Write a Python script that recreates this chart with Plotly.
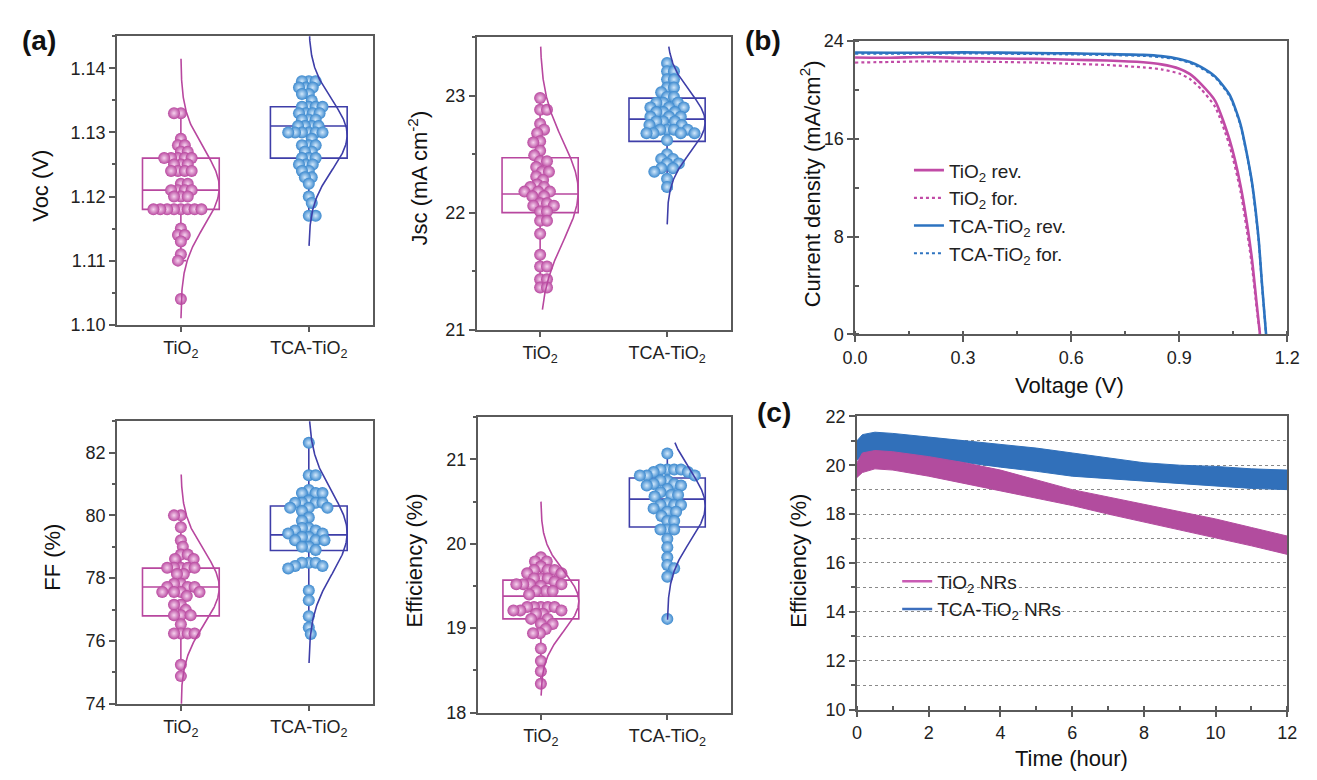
import numpy as np
import plotly.graph_objects as go

# ---------------- data ----------------
GROUPS = ["TiO<sub>2</sub>", "TCA-TiO<sub>2</sub>"]

VOC_TIO2 = [1.133, 1.133, 1.129, 1.128, 1.128, 1.127, 1.127, 1.126, 1.126, 1.126, 1.126, 1.126,
            1.125, 1.125, 1.125, 1.124, 1.124, 1.124, 1.124, 1.122, 1.122, 1.121, 1.121, 1.121,
            1.121, 1.120, 1.120, 1.120, 1.118, 1.118, 1.118, 1.118, 1.118, 1.118, 1.118, 1.118,
            1.115, 1.114, 1.114, 1.113, 1.111, 1.110, 1.104]
VOC_TCA = [1.138, 1.138, 1.138, 1.137, 1.137, 1.137, 1.136, 1.136, 1.135, 1.134, 1.134, 1.134,
           1.134, 1.133, 1.133, 1.133, 1.133, 1.132, 1.132, 1.132, 1.131, 1.131, 1.131, 1.131,
           1.130, 1.130, 1.130, 1.130, 1.130, 1.130, 1.129, 1.128, 1.128, 1.128, 1.127, 1.127,
           1.126, 1.126, 1.126, 1.125, 1.125, 1.125, 1.124, 1.124, 1.123, 1.123, 1.122, 1.120,
           1.119, 1.117, 1.117]
JSC_TIO2 = [22.98, 22.88, 22.88, 22.76, 22.71, 22.68, 22.61, 22.60, 22.53, 22.49, 22.44, 22.44,
            22.39, 22.35, 22.35, 22.31, 22.28, 22.24, 22.22, 22.22, 22.18, 22.18, 22.18, 22.14,
            22.14, 22.08, 22.08, 22.06, 22.06, 22.01, 22.01, 21.93, 21.93, 21.82, 21.64, 21.54,
            21.54, 21.43, 21.43, 21.36, 21.36]
JSC_TCA = [23.28, 23.21, 23.21, 23.14, 23.14, 23.07, 23.07, 23.03, 22.99, 22.99, 22.94, 22.94,
           22.94, 22.90, 22.90, 22.90, 22.86, 22.86, 22.86, 22.82, 22.82, 22.82, 22.78, 22.78,
           22.78, 22.75, 22.75, 22.71, 22.71, 22.71, 22.71, 22.68, 22.68, 22.68, 22.68, 22.62,
           22.50, 22.46, 22.46, 22.42, 22.42, 22.38, 22.38, 22.35, 22.29, 22.22]
FF_TIO2 = [80.0, 80.0, 79.62, 79.21, 79.0, 78.75, 78.75, 78.61, 78.61, 78.33, 78.33, 78.33, 78.33,
           78.33, 78.13, 78.13, 77.82, 77.82, 77.72, 77.72, 77.72, 77.56, 77.56, 77.56, 77.56,
           77.43, 77.15, 77.15, 76.99, 76.82, 76.82, 76.82, 76.53, 76.24, 76.24, 76.24, 76.24,
           75.24, 74.88]
FF_TCA = [82.31, 81.28, 81.28, 80.81, 80.71, 80.71, 80.71, 80.47, 80.40, 80.40, 80.40, 80.40,
          80.24, 80.24, 80.24, 80.14, 79.93, 79.83, 79.60, 79.60, 79.52, 79.52, 79.42, 79.42,
          79.31, 79.31, 79.21, 79.21, 79.21, 79.0, 79.0, 78.90, 78.49, 78.49, 78.49, 78.39,
          78.39, 78.31, 77.61, 77.30, 76.79, 76.43, 76.22]
EFF_TIO2 = [19.84, 19.79, 19.79, 19.73, 19.69, 19.69, 19.69, 19.65, 19.65, 19.59, 19.59, 19.59,
            19.55, 19.52, 19.52, 19.52, 19.52, 19.50, 19.44, 19.44, 19.44, 19.40, 19.25, 19.25,
            19.25, 19.25, 19.25, 19.21, 19.21, 19.21, 19.17, 19.17, 19.11, 19.11, 19.05, 19.05,
            18.99, 18.94, 18.94, 18.76, 18.61, 18.49, 18.34]
EFF_TCA = [21.07, 20.88, 20.88, 20.88, 20.88, 20.85, 20.85, 20.81, 20.81, 20.81, 20.75, 20.75,
           20.71, 20.71, 20.69, 20.69, 20.65, 20.61, 20.58, 20.58, 20.56, 20.48, 20.46, 20.46,
           20.46, 20.42, 20.38, 20.38, 20.33, 20.27, 20.27, 20.17, 20.17, 20.17, 20.06, 19.96,
           19.84, 19.75, 19.71, 19.61, 19.11]

# box statistics: [lower whisker, Q1, median, Q3, upper whisker]
BOX_VOC = [[1.110, 1.118, 1.121, 1.126, 1.133], [1.117, 1.126, 1.131, 1.134, 1.138]]
BOX_JSC = [[21.36, 22.00, 22.16, 22.47, 22.98], [22.20, 22.61, 22.80, 22.98, 23.26]]
BOX_FF = [[74.90, 76.80, 77.72, 78.32, 80.00], [76.80, 78.88, 79.38, 80.30, 82.30]]
BOX_EFF = [[18.34, 19.11, 19.38, 19.57, 19.84], [19.62, 20.20, 20.53, 20.78, 21.05]]

# extent of the drawn normal-distribution curves [bottom, top]
CURVE_VOC = [[1.101, 1.1415], [1.1123, 1.150]]
CURVE_JSC = [[21.17, 23.42], [21.90, 23.42]]
CURVE_FF = [[73.5, 81.3], [75.3, 84.0]]
CURVE_EFF = [[18.20, 20.50], [19.10, 21.20]]

# J-V curves
V_TIO2 = [0, 0.1, 0.2, 0.3, 0.4, 0.5, 0.6, 0.7, 0.8, 0.85, 0.9, 0.93, 0.96, 1.0, 1.04, 1.07,
          1.10, 1.115, 1.124]
J_TIO2_REV = [22.67, 22.65, 22.70, 22.62, 22.58, 22.55, 22.48, 22.42, 22.27, 22.10, 21.75, 21.30,
              20.50, 19.10, 15.90, 12.20, 6.60, 2.50, 0.0]
J_TIO2_FOR = [22.25, 22.30, 22.35, 22.33, 22.30, 22.25, 22.15, 22.05, 21.85, 21.70, 21.35, 20.90,
              20.10, 18.60, 15.40, 11.70, 6.00, 2.10, 0.0]
V_TCA = [0, 0.1, 0.2, 0.3, 0.4, 0.5, 0.6, 0.7, 0.8, 0.85, 0.9, 0.93, 0.96, 1.0, 1.04, 1.07, 1.10,
         1.12, 1.13, 1.141]
J_TCA_REV = [23.07, 23.05, 23.05, 23.08, 23.06, 23.03, 23.00, 22.95, 22.88, 22.78, 22.55, 22.30,
             21.90, 21.10, 19.60, 17.20, 12.80, 7.90, 4.00, 0.0]
J_TCA_FOR = [22.98, 22.97, 22.98, 23.00, 22.98, 22.95, 22.92, 22.87, 22.80, 22.70, 22.48, 22.22,
             21.82, 21.02, 19.50, 17.10, 12.70, 7.80, 3.90, 0.0]

# stability (band envelopes)
T_H = [0, 0.15, 0.5, 1, 2, 3, 4, 5, 6, 7, 8, 9, 10, 11, 12]
TCA_UP = [21.00, 21.25, 21.35, 21.30, 21.15, 21.00, 20.88, 20.70, 20.50, 20.30, 20.10, 20.00,
          19.95, 19.85, 19.80]
TCA_LO = [20.20, 20.40, 20.50, 20.45, 20.30, 20.10, 19.92, 19.75, 19.55, 19.45, 19.35, 19.25,
          19.15, 19.05, 19.00]
TIO2_UP = [20.10, 20.50, 20.60, 20.55, 20.35, 20.10, 19.80, 19.40, 19.00, 18.70, 18.40, 18.10,
           17.80, 17.45, 17.10]
TIO2_LO = [19.50, 19.70, 19.85, 19.80, 19.55, 19.25, 18.95, 18.65, 18.35, 18.00, 17.68, 17.35,
           17.02, 16.70, 16.35]

# ---------------- styling ----------------
FONT = "Liberation Sans, Arial, sans-serif"
PINK = "#B8479F"
PINK_LIGHT = "#F6D2EE"
BLUE = "#3A88CE"
BLUE_LIGHT = "#D2E8FB"
NAVY = "#3E3EA8"
JV_PINK = "#C14BA6"
JV_BLUE = "#2D73C0"
ST_PINK = "#B24C9E"
ST_BLUE = "#3170BA"
AXC = "#5a5a5a"
W, H = 1317, 780


def dx(a, b):
    return [a / W, b / W]


def dy(top, bottom):
    return [1 - bottom / H, 1 - top / H]


# panel pixel boxes: (x0, x1, ytop, ybottom)
PANELS = {
    1: (106, 367, 27, 323),
    2: (473, 732, 28, 328),
    3: (106, 367, 422, 712),
    4: (474, 732, 418, 721),
    5: (859, 1300, 32, 333),
    6: (861, 1300, 417, 718),
}
YR = {1: [1.10, 1.145], 2: [21, 23.5], 3: [74, 83], 4: [18, 21.5]}


def swarm(vals, center, xppu, yppu, dmin=7.0, maxoff=36):
    placed, out = [], []
    for i, v in enumerate(vals):
        y = v * yppu
        chosen, best, bestd = None, 0, -1
        for k in range(0, maxoff + 1):
            cands = [0] if k == 0 else ([k, -k] if i % 2 == 0 else [-k, k])
            for s in cands:
                d = min([np.hypot(s - px, y - py) for px, py in placed], default=1e9)
                if d >= dmin:
                    chosen = s
                    break
                if d > bestd:
                    bestd, best = d, s
            if chosen is not None:
                break
        if chosen is None:
            chosen = best
        placed.append((chosen, y))
        out.append(center + chosen / xppu)
    return out


fig = go.Figure()

box_sets = {
    1: (VOC_TIO2, VOC_TCA, BOX_VOC, CURVE_VOC),
    2: (JSC_TIO2, JSC_TCA, BOX_JSC, CURVE_JSC),
    3: (FF_TIO2, FF_TCA, BOX_FF, CURVE_FF),
    4: (EFF_TIO2, EFF_TCA, BOX_EFF, CURVE_EFF),
}
for p, (a, b, stats, spans) in box_sets.items():
    x0, x1, yt, yb = PANELS[p]
    xppu = (x1 - x0) / 2.0
    yppu = (yb - yt) / (YR[p][1] - YR[p][0])
    xa = "x" if p == 1 else f"x{p}"
    ya = "y" if p == 1 else f"y{p}"
    for gi, (vals, col, light, bcol) in enumerate(
            [(a, PINK, PINK_LIGHT, PINK), (b, BLUE, BLUE_LIGHT, NAVY)]):
        center = 0.5 + gi
        xs = swarm(vals, center, xppu, yppu)
        fig.add_trace(go.Scatter(
            x=xs, y=vals, mode="markers", xaxis=xa, yaxis=ya, showlegend=False,
            marker=dict(size=12, color=col, line=dict(width=0),
                        gradient=dict(type="radial", color=light)),
            hoverinfo="y"))
        s = stats[gi]
        fig.add_trace(go.Box(
            x=[center], lowerfence=[s[0]], q1=[s[1]], median=[s[2]], q3=[s[3]],
            upperfence=[s[4]], width=0.6, whiskerwidth=0.14, boxpoints=False,
            line=dict(color=bcol, width=1.6), fillcolor="rgba(0,0,0,0)",
            xaxis=xa, yaxis=ya, showlegend=False))
        mu = float(np.mean(vals))
        sd = float(np.std(vals, ddof=1))
        yy = np.linspace(spans[gi][0], spans[gi][1], 240)
        xx = center + 0.3 * np.exp(-0.5 * ((yy - mu) / sd) ** 2)
        fig.add_trace(go.Scatter(
            x=xx, y=yy, mode="lines", line=dict(color=bcol, width=1.6),
            xaxis=xa, yaxis=ya, showlegend=False, hoverinfo="skip"))

# ---- (b) J-V ----
for V, J, col, dash, w, name in [
    (V_TIO2, J_TIO2_REV, JV_PINK, "solid", 2.6, "TiO<sub>2</sub> rev."),
    (V_TIO2, J_TIO2_FOR, JV_PINK, "dot", 2.2, "TiO<sub>2</sub> for."),
    (V_TCA, J_TCA_REV, JV_BLUE, "solid", 2.6, "TCA-TiO<sub>2</sub> rev."),
    (V_TCA, J_TCA_FOR, JV_BLUE, "dot", 2.2, "TCA-TiO<sub>2</sub> for."),
]:
    fig.add_trace(go.Scatter(
        x=V, y=J, mode="lines", name=name, xaxis="x5", yaxis="y5", legend="legend",
        line=dict(color=col, width=w, dash=dash, shape="spline", smoothing=0.6)))

# ---- (c) stability ----
for lo, up, col in [(TCA_LO, TCA_UP, ST_BLUE), (TIO2_LO, TIO2_UP, ST_PINK)]:
    fig.add_trace(go.Scatter(x=T_H, y=lo, mode="lines", line=dict(color=col, width=1),
                             xaxis="x6", yaxis="y6", showlegend=False))
    fig.add_trace(go.Scatter(x=T_H, y=up, mode="lines", line=dict(color=col, width=1),
                             fill="tonexty", fillcolor=col, xaxis="x6", yaxis="y6",
                             showlegend=False))
for name, col in [("TiO<sub>2</sub> NRs", "#C95BB4"), ("TCA-TiO<sub>2</sub> NRs", "#3D6FBE")]:
    fig.add_trace(go.Scatter(x=[None], y=[None], mode="lines", name=name,
                             line=dict(color=col, width=2.5), xaxis="x6", yaxis="y6",
                             legend="legend2"))

# ---------------- axes ----------------
base_ax = dict(showline=True, linecolor=AXC, linewidth=1.5, mirror=True, ticks="outside",
               ticklen=6, tickwidth=1.5, tickcolor=AXC, zeroline=False, showgrid=False,
               tickfont=dict(family=FONT, size=18, color="#222"))
layout_axes = {}
ydt = {1: (0.01, 0.005, ".2f"), 2: (1, 0.5, "d"), 3: (2, 1, "d"), 4: (1, 0.5, "d")}
for p in range(1, 5):
    x0, x1, yt, yb = PANELS[p]
    xk = "xaxis" if p == 1 else f"xaxis{p}"
    yk = "yaxis" if p == 1 else f"yaxis{p}"
    layout_axes[xk] = dict(base_ax, domain=dx(x0, x1), range=[0, 2], tickmode="array",
                           tickvals=[0.5, 1.5], ticktext=GROUPS,
                           anchor="y" if p == 1 else f"y{p}")
    d, m, f = ydt[p]
    layout_axes[yk] = dict(base_ax, domain=dy(yt, yb), range=YR[p], dtick=d, tick0=YR[p][0],
                           tickformat=f,
                           minor=dict(ticks="outside", ticklen=3, dtick=m, tickcolor=AXC),
                           anchor="x" if p == 1 else f"x{p}")

x0, x1, yt, yb = PANELS[5]
layout_axes["xaxis5"] = dict(base_ax, domain=dx(x0, x1), range=[0, 1.2], dtick=0.3, tick0=0,
                             tickformat=".1f", anchor="y5",
                             minor=dict(ticks="inside", ticklen=4, dtick=0.15, tickcolor=AXC))
layout_axes["yaxis5"] = dict(base_ax, domain=dy(yt, yb), range=[0, 24], dtick=8, tick0=0,
                             anchor="x5",
                             minor=dict(ticks="inside", ticklen=4, dtick=4, tickcolor=AXC))
x0, x1, yt, yb = PANELS[6]
layout_axes["xaxis6"] = dict(base_ax, domain=dx(x0, x1), range=[0, 12], dtick=2, tick0=0,
                             anchor="y6",
                             minor=dict(ticks="inside", ticklen=4, dtick=1, tickcolor=AXC))
layout_axes["yaxis6"] = dict(base_ax, domain=dy(yt, yb), range=[10, 22], dtick=2, tick0=10,
                             anchor="x6", showgrid=True, gridcolor="#8a8a8a", griddash="dot",
                             gridwidth=1,
                             minor=dict(ticks="outside", ticklen=4, dtick=1, tickcolor=AXC,
                                        showgrid=True, gridcolor="#8a8a8a", griddash="dot",
                                        gridwidth=1))


# ---------------- annotations ----------------
def ann(text, x, y, size=22, angle=0, bold=False):
    return dict(text=f"<b>{text}</b>" if bold else text, x=x / W, y=1 - y / H, xref="paper",
                yref="paper", showarrow=False, textangle=angle, xanchor="center",
                yanchor="middle", font=dict(family=FONT, size=size, color="#111"))


annotations = [
    ann("(a)", 27, 31, 28, bold=True),
    ann("(b)", 765, 31, 28, bold=True),
    ann("(c)", 776, 413, 28, bold=True),
    ann("Voc (V)", 28, 180, 22, -90),
    ann("Jsc (mA cm<sup>-2</sup>)", 413, 172, 22, -90),
    ann("FF (%)", 40, 562, 22, -90),
    ann("Efficiency (%)", 410, 565, 22, -90),
    ann("Current density (mA/cm<sup>2</sup>)", 814, 178, 22, -90),
    ann("Efficiency (%)", 801, 565, 22, -90),
    ann("Voltage (V)", 1078, 385, 22),
    ann("Time (hour)", 1080, 768, 22),
]

fig.update_layout(
    width=W, height=H, margin=dict(l=0, r=0, t=0, b=0), autosize=False,
    paper_bgcolor="white", plot_bgcolor="white",
    font=dict(family=FONT, size=18, color="#222"),
    annotations=annotations,
    legend=dict(x=914 / W, y=1 - 145 / H, xanchor="left", yanchor="top", traceorder="normal",
                bgcolor="rgba(0,0,0,0)", font=dict(family=FONT, size=19, color="#222")),
    legend2=dict(x=902 / W, y=1 - 567 / H, xanchor="left", yanchor="top", traceorder="normal",
                 bgcolor="rgba(0,0,0,0)", font=dict(family=FONT, size=19, color="#222")),
    **layout_axes,
)

fig.write_html("out.html")
